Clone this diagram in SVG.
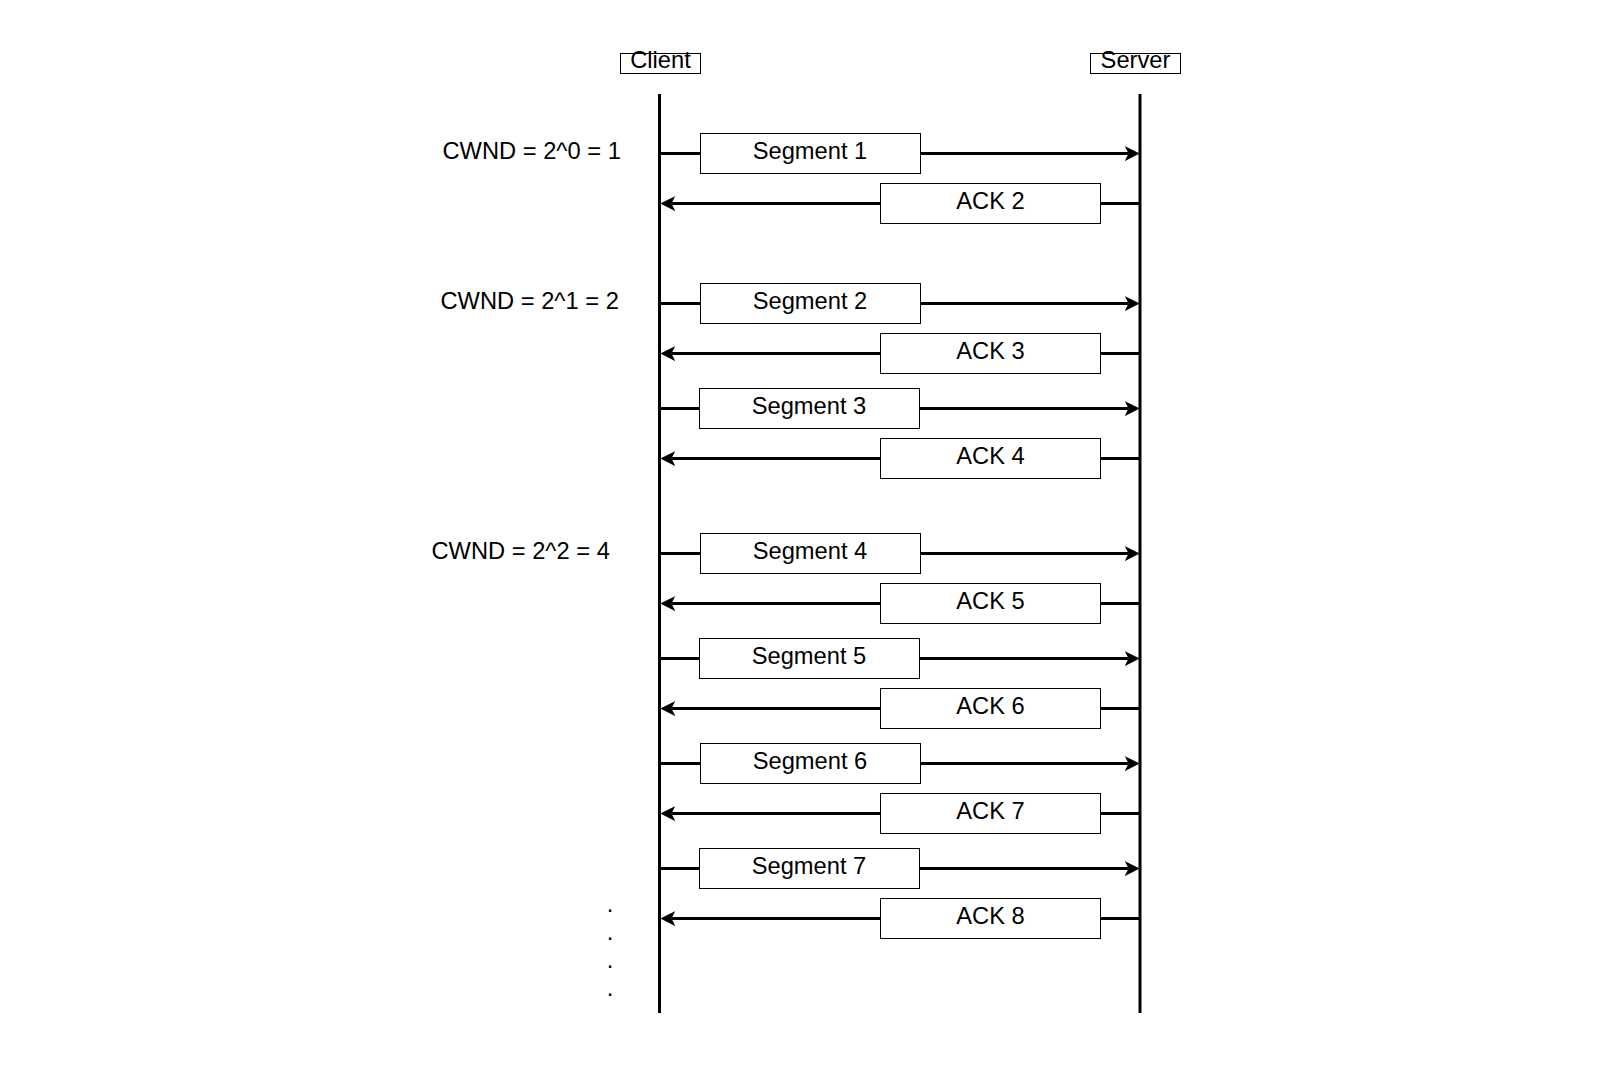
<svg xmlns="http://www.w3.org/2000/svg" width="1599" height="1074" viewBox="0 0 1599 1074">
<style>
text { font-family: "Liberation Sans", Arial, sans-serif; font-size: 23.7px; fill: #000; }
.lbl { text-anchor: middle; }
.box { fill: #fff; stroke: #000; stroke-width: 1; }
.life { stroke: #000; stroke-width: 3; fill: none; }
.msg { stroke: #000; stroke-width: 3; fill: none; marker-end: url(#arr); }
</style>
<defs>
<marker id="arr" viewBox="0 0 15 15" refX="3.75" refY="7.5" markerWidth="15" markerHeight="15" markerUnits="userSpaceOnUse" orient="auto">
<path d="M15,7.5 L0,0 L3.75,7.5 L0,15 Z" fill="#000"/>
</marker>
</defs>
<rect width="1599" height="1074" fill="#fff"/>
<g id="connectors">
<line class="life" x1="659.5" y1="94" x2="659.5" y2="1013"/>
<line class="life" x1="1140" y1="94" x2="1140" y2="1013"/>
<line class="msg" x1="659.5" y1="153.5" x2="1128.5" y2="153.5"/>
<line class="msg" x1="1140" y1="203.5" x2="671.5" y2="203.5"/>
<line class="msg" x1="659.5" y1="303.5" x2="1128.5" y2="303.5"/>
<line class="msg" x1="1140" y1="353.5" x2="671.5" y2="353.5"/>
<line class="msg" x1="659.5" y1="408.5" x2="1128.5" y2="408.5"/>
<line class="msg" x1="1140" y1="458.5" x2="671.5" y2="458.5"/>
<line class="msg" x1="659.5" y1="553.5" x2="1128.5" y2="553.5"/>
<line class="msg" x1="1140" y1="603.5" x2="671.5" y2="603.5"/>
<line class="msg" x1="659.5" y1="658.5" x2="1128.5" y2="658.5"/>
<line class="msg" x1="1140" y1="708.5" x2="671.5" y2="708.5"/>
<line class="msg" x1="659.5" y1="763.5" x2="1128.5" y2="763.5"/>
<line class="msg" x1="1140" y1="813.5" x2="671.5" y2="813.5"/>
<line class="msg" x1="659.5" y1="868.5" x2="1128.5" y2="868.5"/>
<line class="msg" x1="1140" y1="918.5" x2="671.5" y2="918.5"/>
</g>
<g id="client"><rect class="box" x="620.5" y="53.5" width="80" height="20"/><text class="lbl" x="660.5" y="67.5">Client</text></g>
<g id="server"><rect class="box" x="1090.5" y="53.5" width="90" height="20"/><text class="lbl" x="1135.5" y="67.5">Server</text></g>
<g id="seg1"><rect class="box" x="700.5" y="133.5" width="220" height="40"/><text class="lbl" x="810" y="158.5">Segment 1</text></g>
<g id="ack2"><rect class="box" x="880.5" y="183.5" width="220" height="40"/><text class="lbl" x="990.5" y="208.5">ACK 2</text></g>
<g id="seg2"><rect class="box" x="700.5" y="283.5" width="220" height="40"/><text class="lbl" x="810" y="308.5">Segment 2</text></g>
<g id="ack3"><rect class="box" x="880.5" y="333.5" width="220" height="40"/><text class="lbl" x="990.5" y="358.5">ACK 3</text></g>
<g id="seg3"><rect class="box" x="699.5" y="388.5" width="220" height="40"/><text class="lbl" x="809" y="413.5">Segment 3</text></g>
<g id="ack4"><rect class="box" x="880.5" y="438.5" width="220" height="40"/><text class="lbl" x="990.5" y="463.5">ACK 4</text></g>
<g id="seg4"><rect class="box" x="700.5" y="533.5" width="220" height="40"/><text class="lbl" x="810" y="558.5">Segment 4</text></g>
<g id="ack5"><rect class="box" x="880.5" y="583.5" width="220" height="40"/><text class="lbl" x="990.5" y="608.5">ACK 5</text></g>
<g id="seg5"><rect class="box" x="699.5" y="638.5" width="220" height="40"/><text class="lbl" x="809" y="663.5">Segment 5</text></g>
<g id="ack6"><rect class="box" x="880.5" y="688.5" width="220" height="40"/><text class="lbl" x="990.5" y="713.5">ACK 6</text></g>
<g id="seg6"><rect class="box" x="700.5" y="743.5" width="220" height="40"/><text class="lbl" x="810" y="768.5">Segment 6</text></g>
<g id="ack7"><rect class="box" x="880.5" y="793.5" width="220" height="40"/><text class="lbl" x="990.5" y="818.5">ACK 7</text></g>
<g id="seg7"><rect class="box" x="699.5" y="848.5" width="220" height="40"/><text class="lbl" x="809" y="873.5">Segment 7</text></g>
<g id="ack8"><rect class="box" x="880.5" y="898.5" width="220" height="40"/><text class="lbl" x="990.5" y="923.5">ACK 8</text></g>
<g id="cwnd0"><text x="442.5" y="158.5">CWND = 2^0 = 1</text></g>
<g id="cwnd1"><text x="440.5" y="308.5">CWND = 2^1 = 2</text></g>
<g id="cwnd2"><text x="431.5" y="558.5">CWND = 2^2 = 4</text></g>
<g id="dots"><text class="lbl"><tspan x="610" y="912">.</tspan><tspan x="610" y="940">.</tspan><tspan x="610" y="968">.</tspan><tspan x="610" y="996">.</tspan></text></g>
</svg>
